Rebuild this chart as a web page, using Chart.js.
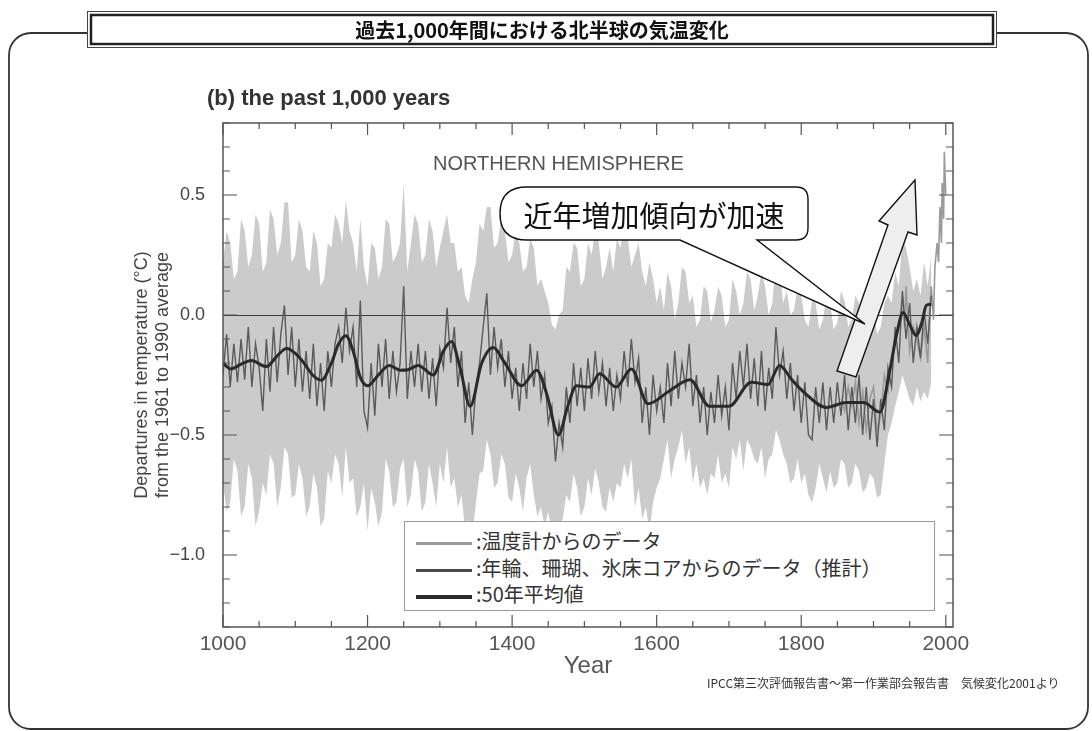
<!DOCTYPE html>
<html lang="ja">
<head>
<meta charset="utf-8">
<title>過去1,000年間における北半球の気温変化</title>
<script src="https://cdn.jsdelivr.net/npm/chart.js@4.4.1/dist/chart.umd.min.js"></script>
<style>
  html, body { margin: 0; padding: 0; background: #fff; }
  body { width: 1092px; height: 731px; position: relative; overflow: hidden;
         font-family: "Liberation Sans", Arial, sans-serif; }
  svg, canvas { position: absolute; left: 0; top: 0; }
  #frame { z-index: 0; }
  #chart { z-index: 1; }
  #shapes { z-index: 2; }
  .txt { position: absolute; z-index: 3; white-space: nowrap; }
  .jp { font-family: "Noto Sans CJK JP", "Noto Sans", sans-serif; }
  #header { left: 87px; top: 11px; width: 910px; height: 37px; line-height: 37px;
            text-align: center; font-size: 20px; font-weight: bold; color: #111; }
  #subtitle { left: 207px; top: 85px; font-size: 22px; font-weight: bold; color: #333; }
  #nh { left: 433px; top: 152px; font-size: 20px; color: #555; }
  #bubbleText { left: 500px; top: 193px; width: 308px; text-align: center; font-size: 29px; color: #111; line-height: 42px; }
  #legend { left: 404px; top: 521px; width: 531px; height: 90px; box-sizing: border-box;
            border: 1px solid #9a9a9a; background: #fff; padding-top: 6px; }
  .row { height: 26.5px; line-height: 26.5px; font-size: 20px; color: #333; }
  .row i { display: inline-block; width: 56px; vertical-align: middle; margin: 0 4px 0 11px; }
  #credit { left: 707px; top: 674px; font-size: 12px; color: #333; }
</style>
</head>
<body>
<svg id="frame" width="1092" height="731">
  <rect x="9" y="33" width="1079" height="696" rx="22" ry="22" fill="none" stroke="#333" stroke-width="1.8"/>
  <rect x="87.5" y="11.5" width="909" height="36" fill="#fff" stroke="#444" stroke-width="1"/>
  <rect x="91" y="15" width="902" height="29" fill="#fff" stroke="#222" stroke-width="2.5"/>
</svg>
<canvas id="chart" width="1092" height="731"></canvas>
<svg id="shapes" width="1092" height="731">
  <polygon points="915,180 917,235 908,232 856,377 837,371 888,225 879,221" fill="#eeeeee" stroke="#111" stroke-width="1.4"/>
  <path d="M 527 187 L 796 187 Q 808 187 808 199 L 808 228 Q 808 240 796 240 L 757 240 L 865 324 L 680 240 L 527 240 Q 500 240 500 213.5 Q 500 187 527 187 Z" fill="#fff" stroke="#111" stroke-width="1.4"/>
</svg>
<div class="txt jp" id="header">過去1,000年間における北半球の気温変化</div>
<div class="txt" id="subtitle">(b) the past 1,000 years</div>
<div class="txt" id="nh">NORTHERN HEMISPHERE</div>
<div class="txt jp" id="bubbleText">近年増加傾向が加速</div>
<div class="txt jp" id="legend">
  <div class="row"><i style="height:3px;background:#9a9a9a"></i>:温度計からのデータ</div>
  <div class="row"><i style="height:3px;background:#4a4a4a"></i>:年輪、珊瑚、氷床コアからのデータ（推計）</div>
  <div class="row"><i style="height:4px;background:#2a2a2a"></i>:50年平均値</div>
</div>
<div class="txt jp" id="credit">IPCC第三次評価報告書～第一作業部会報告書　気候変化2001より</div>

<script>
// tick labels
const xTickLabels = [1000, 1200, 1400, 1600, 1800, 2000];
const yTickLabels = [-1.0, -0.5, 0.0, 0.5];

// tree ring / coral / ice core reconstruction, every 5 years from 1000
const proxyStart = 1000, proxyStep = 5;
const proxyValues = [
  -0.25, -0.08, -0.30, -0.12, -0.28, -0.10, -0.27, -0.05, -0.30, -0.12,
  -0.22, -0.40, -0.10, -0.32, -0.05, -0.28, -0.08,  0.04, -0.25, -0.05,
  -0.30, -0.10, -0.32, -0.15, -0.35, -0.12, -0.38, -0.20, -0.40, -0.15,
  -0.30, -0.12, -0.05, -0.20,  0.03, -0.15, -0.05, -0.30,  0.06, -0.40,
  -0.47, -0.20, -0.42, -0.12, -0.30, -0.10, -0.35, -0.15, -0.32, -0.20,
   0.12, -0.35, -0.15, -0.30, -0.12, -0.32, -0.15, -0.35, -0.18, -0.38,
  -0.14, -0.22,  0.03, -0.20, -0.05, -0.30, -0.15, -0.45, -0.28, -0.50,
  -0.30, -0.20, -0.05,  0.09, -0.25, -0.05, -0.22, -0.10, -0.30, -0.15,
  -0.35, -0.22, -0.40, -0.20, -0.35, -0.12, -0.30, -0.15, -0.35, -0.25,
  -0.45, -0.38, -0.61, -0.45, -0.55, -0.30, -0.45, -0.20, -0.38, -0.22,
  -0.40, -0.18, -0.35, -0.15, -0.32, -0.20, -0.38, -0.22, -0.40, -0.25,
  -0.35, -0.15, -0.30, -0.10, -0.28, -0.18, -0.45, -0.30, -0.50, -0.25,
  -0.40, -0.30, -0.45, -0.20, -0.38, -0.15, -0.35, -0.20, -0.30, -0.12,
  -0.38, -0.25, -0.45, -0.30, -0.50, -0.32, -0.45, -0.25, -0.42, -0.30,
  -0.48, -0.20, -0.35, -0.15, -0.30, -0.12, -0.35, -0.18, -0.38, -0.15,
  -0.40, -0.22, -0.35, -0.05, -0.25, -0.15, -0.35, -0.20, -0.40, -0.25,
  -0.45, -0.28, -0.50, -0.52, -0.30, -0.45, -0.28, -0.48, -0.30, -0.45,
  -0.28, -0.42, -0.25, -0.48, -0.30, -0.45, -0.25, -0.50, -0.30, -0.52,
  -0.35, -0.55, -0.35, -0.48, -0.22, -0.30, -0.05, -0.20,  0.10, -0.10,
   0.05, -0.20, -0.05, -0.18,  0.02, -0.12,  0.08
];

// uncertainty range, every 5 years from 1000
const bandStart = 1000, bandStep = 5;
const bandUpper = [
   0.22,  0.35,  0.30,  0.15,  0.18,  0.40,  0.35,  0.20,  0.25,  0.42,
   0.38,  0.18,  0.22,  0.44,  0.40,  0.25,  0.30,  0.47,  0.47,  0.22,
   0.25,  0.40,  0.35,  0.20,  0.18,  0.35,  0.30,  0.12,  0.15,  0.30,
   0.28,  0.42,  0.38,  0.30,  0.48,  0.35,  0.30,  0.18,  0.40,  0.20,
   0.12,  0.30,  0.28,  0.15,  0.20,  0.40,  0.38,  0.22,  0.25,  0.30,
   0.55,  0.18,  0.30,  0.42,  0.38,  0.22,  0.25,  0.40,  0.35,  0.20,
   0.28,  0.35,  0.42,  0.30,  0.30,  0.18,  0.20,  0.08,  0.05,  0.15,
   0.22,  0.38,  0.35,  0.45,  0.45,  0.28,  0.30,  0.40,  0.35,  0.22,
   0.25,  0.35,  0.30,  0.18,  0.20,  0.32,  0.28,  0.12,  0.15,  0.10,
   0.05, -0.04, -0.06,  0.00,  0.02,  0.20,  0.18,  0.30,  0.28,  0.12,
   0.15,  0.30,  0.25,  0.35,  0.30,  0.15,  0.20,  0.28,  0.18,  0.32,
   0.28,  0.38,  0.32,  0.20,  0.25,  0.30,  0.18,  0.12,  0.22,  0.15,
   0.05,  0.12,  0.02,  0.18,  0.12, -0.02,  0.05,  0.20,  0.18,  0.05,
   0.08, -0.05, -0.02,  0.12,  0.10, -0.03,  0.02,  0.12,  0.08, -0.05,
  -0.02,  0.15,  0.10,  0.00,  0.05,  0.18,  0.15,  0.02,  0.08,  0.18,
   0.12,  0.00,  0.05,  0.22,  0.20,  0.05,  0.10,  0.00,  0.02,  0.12,
   0.08, -0.02, -0.05,  0.06,  0.05, -0.06, -0.02,  0.08,  0.05, -0.06,
  -0.03,  0.10,  0.06, -0.05, -0.02,  0.08,  0.05, -0.08, -0.05,  0.04,
   0.03, -0.08, -0.05,  0.05,  0.08,  0.05,  0.18,  0.12,  0.32,  0.28,
   0.20,  0.10,  0.15,  0.08,  0.22,  0.12,  0.25
];
const bandLower = [
  -0.70, -0.82, -0.78, -0.60, -0.65, -0.84, -0.80, -0.62, -0.68, -0.88,
  -0.82, -0.70, -0.75, -0.58, -0.62, -0.80, -0.72, -0.55, -0.58, -0.76,
  -0.75, -0.62, -0.68, -0.84, -0.80, -0.66, -0.72, -0.88, -0.85, -0.65,
  -0.70, -0.58, -0.62, -0.76, -0.55, -0.70, -0.68, -0.84, -0.80, -0.70,
  -0.90, -0.72, -0.78, -0.88, -0.82, -0.60, -0.65, -0.80, -0.78, -0.64,
  -0.60, -0.80, -0.75, -0.60, -0.65, -0.82, -0.78, -0.62, -0.70, -0.80,
  -0.62, -0.70, -0.55, -0.72, -0.68, -0.80, -0.75, -0.90, -0.85, -0.92,
  -0.78, -0.66, -0.65, -0.52, -0.58, -0.72, -0.70, -0.58, -0.62, -0.76,
  -0.78, -0.66, -0.72, -0.82, -0.68, -0.62, -0.75, -0.84, -0.80, -0.88,
  -0.82, -0.90, -0.95, -0.88, -0.85, -0.75, -0.78, -0.66, -0.72, -0.84,
  -0.80, -0.68, -0.75, -0.64, -0.70, -0.80, -0.82, -0.72, -0.78, -0.70,
  -0.72, -0.62, -0.68, -0.60, -0.80, -0.72, -0.85, -0.80, -0.90, -0.78,
  -0.72, -0.68, -0.60, -0.52, -0.68, -0.60, -0.55, -0.48, -0.62, -0.55,
  -0.70, -0.62, -0.72, -0.68, -0.75, -0.66, -0.68, -0.58, -0.70, -0.66,
  -0.72, -0.55, -0.60, -0.52, -0.65, -0.52, -0.55, -0.60, -0.62, -0.55,
  -0.68, -0.60, -0.58, -0.48, -0.52, -0.58, -0.62, -0.70, -0.68, -0.60,
  -0.70, -0.66, -0.75, -0.78, -0.72, -0.62, -0.68, -0.74, -0.65, -0.72,
  -0.70, -0.60, -0.62, -0.72, -0.70, -0.62, -0.65, -0.74, -0.72, -0.66,
  -0.68, -0.76, -0.75, -0.62, -0.50, -0.45, -0.38, -0.32, -0.25, -0.30,
  -0.35, -0.38, -0.30, -0.36, -0.32, -0.35, -0.28
];

// 50-year smoothed curve
const smoothYears = [
  1000, 1011, 1025, 1039, 1060, 1075, 1088, 1100, 1112, 1124, 1136, 1150, 1160, 1170,
  1180, 1190, 1200, 1215, 1230, 1245, 1256, 1270, 1291, 1305, 1316, 1328, 1342, 1358,
  1374, 1390, 1413, 1434, 1448, 1464, 1477, 1489, 1507, 1521, 1544, 1565, 1588, 1616,
  1646, 1673, 1700, 1731, 1754, 1770, 1787, 1803, 1835, 1862, 1886, 1909, 1922, 1932,
  1941, 1950, 1959, 1967, 1973, 1980
];
const smoothValues = [
  -0.20, -0.225, -0.205, -0.19, -0.215, -0.17, -0.14, -0.16, -0.20, -0.25, -0.272, -0.20, -0.12, -0.086,
  -0.15, -0.26, -0.295, -0.25, -0.21, -0.23, -0.228, -0.21, -0.25, -0.15, -0.11, -0.22, -0.38, -0.20,
  -0.135, -0.20, -0.295, -0.23, -0.33, -0.50, -0.38, -0.295, -0.30, -0.245, -0.30, -0.225, -0.37, -0.32,
  -0.27, -0.38, -0.38, -0.28, -0.29, -0.21, -0.27, -0.32, -0.385, -0.365, -0.365, -0.405, -0.24, -0.08,
  0.01, -0.04, -0.085, -0.03, 0.04, 0.045
];

// thermometer record
const instYears = [
  1856, 1860, 1865, 1870, 1875, 1880, 1885, 1890, 1895, 1900, 1905, 1910, 1915, 1920,
  1925, 1930, 1935, 1940, 1943, 1945, 1950, 1955, 1960, 1965, 1970, 1975, 1978, 1980,
  1983, 1985, 1988, 1990, 1992, 1994, 1995, 1997, 1998, 2000
];
const instValues = [
  -0.35, -0.40, -0.30, -0.38, -0.28, -0.45, -0.32, -0.48, -0.35, -0.30, -0.48, -0.42, -0.25, -0.32,
  -0.18, -0.12, -0.05, 0.08, -0.05, 0.12, -0.15, -0.05, -0.10, -0.18, -0.05, -0.20, 0.05, 0.12,
  -0.02, 0.20, 0.30, 0.22, 0.45, 0.30, 0.55, 0.40, 0.68, 0.50
];

function pairs(xs, ys) { return xs.map((x, i) => ({ x: x, y: ys[i] })); }
function series(start, step, ys) { return ys.map((v, i) => ({ x: start + i * step, y: v })); }
function fmt(v) {
  const r = Math.round(v * 10) / 10;
  return (r < 0 ? '\u2212' : '') + Math.abs(r).toFixed(1);
}

// box round the plot with inward ticks, and the zero line over the grey band
const frameTicks = {
  id: 'frameTicks',
  afterDatasetDraw(chart, args) {
    if (args.index !== 3) return;
    const { ctx, chartArea: a, scales: { y } } = chart;
    const y0 = Math.round(y.getPixelForValue(0)) + 0.5;
    ctx.save();
    ctx.strokeStyle = '#3a3a3a';
    ctx.lineWidth = 1.2;
    ctx.beginPath();
    ctx.moveTo(a.left, y0);
    ctx.lineTo(a.right, y0);
    ctx.stroke();
    ctx.restore();
  },
  afterDraw(chart) {
    const { ctx, chartArea: a, scales: { x, y } } = chart;
    ctx.save();
    ctx.strokeStyle = '#555';
    ctx.lineWidth = 1.5;
    ctx.strokeRect(a.left, a.top, a.right - a.left, a.bottom - a.top);
    ctx.lineWidth = 1.2;
    ctx.beginPath();
    for (let yr = 1000; yr <= 2000; yr += 50) {
      const px = x.getPixelForValue(yr);
      const len = yr % 200 === 0 ? 12 : 6;
      ctx.moveTo(px, a.bottom); ctx.lineTo(px, a.bottom - len);
      ctx.moveTo(px, a.top); ctx.lineTo(px, a.top + len);
    }
    for (let k = -13; k <= 8; k++) {
      const py = y.getPixelForValue(k / 10);
      const len = k % 5 === 0 ? 14 : 7;
      ctx.moveTo(a.left, py); ctx.lineTo(a.left + len, py);
      ctx.moveTo(a.right, py); ctx.lineTo(a.right - len, py);
    }
    ctx.stroke();
    ctx.restore();
  }
};

Chart.defaults.font.family = '"Liberation Sans", Arial, sans-serif';

new Chart(document.getElementById('chart'), {
  type: 'line',
  data: {
    datasets: [
      { label: '50年平均値', data: pairs(smoothYears, smoothValues), borderColor: '#2a2a2a',
        borderWidth: 3, cubicInterpolationMode: 'monotone', pointRadius: 0 },
      { label: '年輪、珊瑚、氷床コアからのデータ（推計）', data: series(proxyStart, proxyStep, proxyValues),
        borderColor: '#5a5a5a', borderWidth: 1.4, pointRadius: 0 },
      { label: '温度計からのデータ', data: pairs(instYears, instValues), borderColor: '#9a9a9a',
        borderWidth: 1.6, pointRadius: 0 },
      { label: 'upper', data: series(bandStart, bandStep, bandUpper), borderWidth: 0,
        borderColor: 'rgba(0,0,0,0)', backgroundColor: '#cbcbcb', fill: '+1', pointRadius: 0 },
      { label: 'lower', data: series(bandStart, bandStep, bandLower), borderWidth: 0,
        borderColor: 'rgba(0,0,0,0)', fill: false, pointRadius: 0 }
    ]
  },
  options: {
    responsive: false,
    animation: false,
    layout: { padding: { left: 0, top: 123, right: 139, bottom: 0 } },
    plugins: { legend: { display: false }, tooltip: { enabled: false } },
    scales: {
      x: {
        type: 'linear', min: 1000, max: 2010,
        grid: { display: false, drawTicks: false }, border: { display: false },
        afterBuildTicks: s => { s.ticks = xTickLabels.map(v => ({ value: v })); },
        afterFit: s => { s.height = 104; },
        ticks: { color: '#555', font: { size: 21 }, padding: 5, maxRotation: 0, callback: v => String(v) },
        title: { display: true, text: 'Year', color: '#555', font: { size: 24 }, padding: { top: 0, bottom: 50 } }
      },
      y: {
        min: -1.3, max: 0.8,
        grid: { display: false, drawTicks: false }, border: { display: false },
        afterBuildTicks: s => { s.ticks = yTickLabels.map(v => ({ value: v })); },
        afterFit: s => { s.width = 223; },
        ticks: { color: '#444', font: { size: 18 }, padding: 18, callback: v => fmt(v) },
        title: { display: true, text: ['Departures in temperature (°C)', 'from the 1961 to 1990 average'],
                 color: '#444', font: { size: 18 }, padding: { top: 131, bottom: 0 } }
      }
    }
  },
  plugins: [frameTicks]
});
</script>
</body>
</html>
